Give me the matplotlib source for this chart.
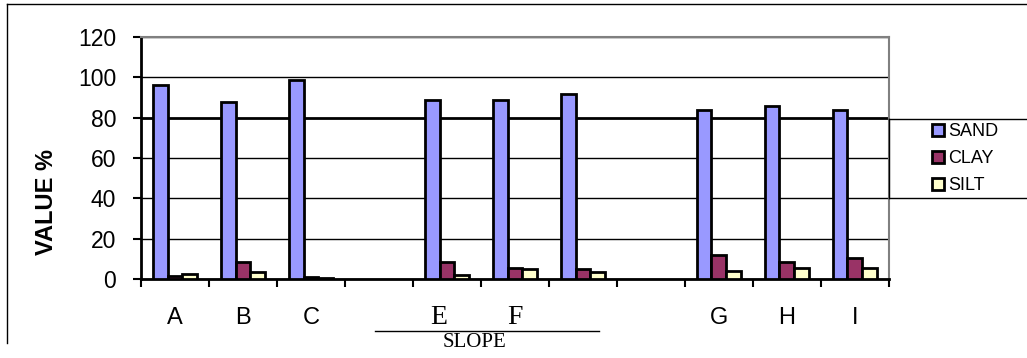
import matplotlib
matplotlib.use('Agg')
import matplotlib.pyplot as plt
import matplotlib.transforms as mtransforms
from matplotlib.lines import Line2D
import numpy as np

plt.rcParams['font.family'] = ['Liberation Sans', 'DejaVu Sans']

# soil texture per sampling point (slots 4 and 8 are empty gaps)
sites = ['A', 'B', 'C', '', 'E', 'F', '', '', 'G', 'H', 'I']
sand = [96, 88, 98.7, np.nan, 89, 89, 91.5, np.nan, 84, 86, 84]
clay = [1.7, 8.6, 1.2, np.nan, 8.6, 5.6, 4.8, np.nan, 11.9, 8.6, 10.6]
silt = [2.5, 3.6, 0.3, np.nan, 1.8, 4.8, 3.6, np.nan, 4.1, 5.6, 5.6]
series = ['SAND', 'CLAY', 'SILT']
colors = ['#9999FF', '#993366', '#FFFFCC']
yticks = [0, 20, 40, 60, 80, 100, 120]

fig = plt.figure(figsize=(10.27, 3.58), dpi=100)
ax = fig.add_axes([0.1373, 0.2207, 0.7283, 0.6759])

x = np.arange(len(sites))
w = 0.22
for k, (vals, name, col) in enumerate(zip([sand, clay, silt], series, colors)):
    ax.bar(x + (k - 1) * w, vals, width=w, color=col, edgecolor='black',
           linewidth=2, label=name, zorder=3)

ax.set_xlim(-0.5, len(sites) - 0.5)
ax.set_ylim(0, 120)
ax.set_yticks(yticks)
ax.tick_params(axis='y', labelsize=16.5, length=6, width=1.5, pad=12, direction='out')

# category labels in the middle of each slot, tick marks on slot borders
ax.set_xticks(x)
ax.set_xticklabels(sites)
ax.set_xticks(np.arange(len(sites) + 1) - 0.5, minor=True)
ax.tick_params(axis='x', which='major', length=0, labelsize=17, pad=20)
ax.tick_params(axis='x', which='minor', length=6, width=1.5, direction='out')
for lbl in ax.get_xticklabels():
    if lbl.get_text() in ('E', 'F'):
        lbl.set_family('Liberation Serif')
        lbl.set_fontsize(20)
        dx = -0.08 if lbl.get_text() == 'E' else 0.0
        lbl.set_transform(lbl.get_transform() +
                          mtransforms.ScaledTranslation(dx, 0.02, fig.dpi_scale_trans))

ax.yaxis.grid(True, color='black', linewidth=1, zorder=0)
ax.set_axisbelow(True)
ax.get_ygridlines()[4].set_linewidth(2)

ax.spines['left'].set_linewidth(2)
ax.spines['bottom'].set_linewidth(2)
ax.spines['top'].set_color('#808080')
ax.spines['right'].set_color('#808080')
ax.spines['top'].set_linewidth(1.5)
ax.spines['right'].set_linewidth(1.5)

ax.set_ylabel('VALUE %', fontsize=17, fontweight='bold', va='center')
ax.yaxis.set_label_coords(-0.126, 0.32)

# slope group marker under E / F
trans = mtransforms.blended_transform_factory(ax.transData, ax.transAxes)
ax.plot([2.94, 6.24], [-0.215, -0.215], color='black', linewidth=1,
        transform=trans, clip_on=False)
ax.text(4.41, -0.281, 'SLOPE', transform=trans, ha='center', va='baseline',
        family='Liberation Serif', fontsize=15)

# legend box, open on the right side
for yy in (0.6676, 0.4469):
    fig.add_artist(Line2D([0.8656, 1.0], [yy, yy], color='black', linewidth=1))
fig.add_artist(Line2D([0.8656, 0.8656], [0.4469, 0.6676], color='black', linewidth=1))
ax.legend(loc='center left', bbox_to_anchor=(0.899, 0.5573),
          bbox_transform=fig.transFigure, frameon=False, fontsize=13,
          handlelength=0.65, handleheight=0.65, handletextpad=0.25,
          labelspacing=0.55, borderpad=0)

# outer chart frame
fig.add_artist(Line2D([0.0068, 1.0], [0.9888, 0.9888], color='black', linewidth=1))
fig.add_artist(Line2D([0.0068, 0.0068], [0.042, 0.9888], color='black', linewidth=1))

fig.savefig('out.png', dpi=100)
